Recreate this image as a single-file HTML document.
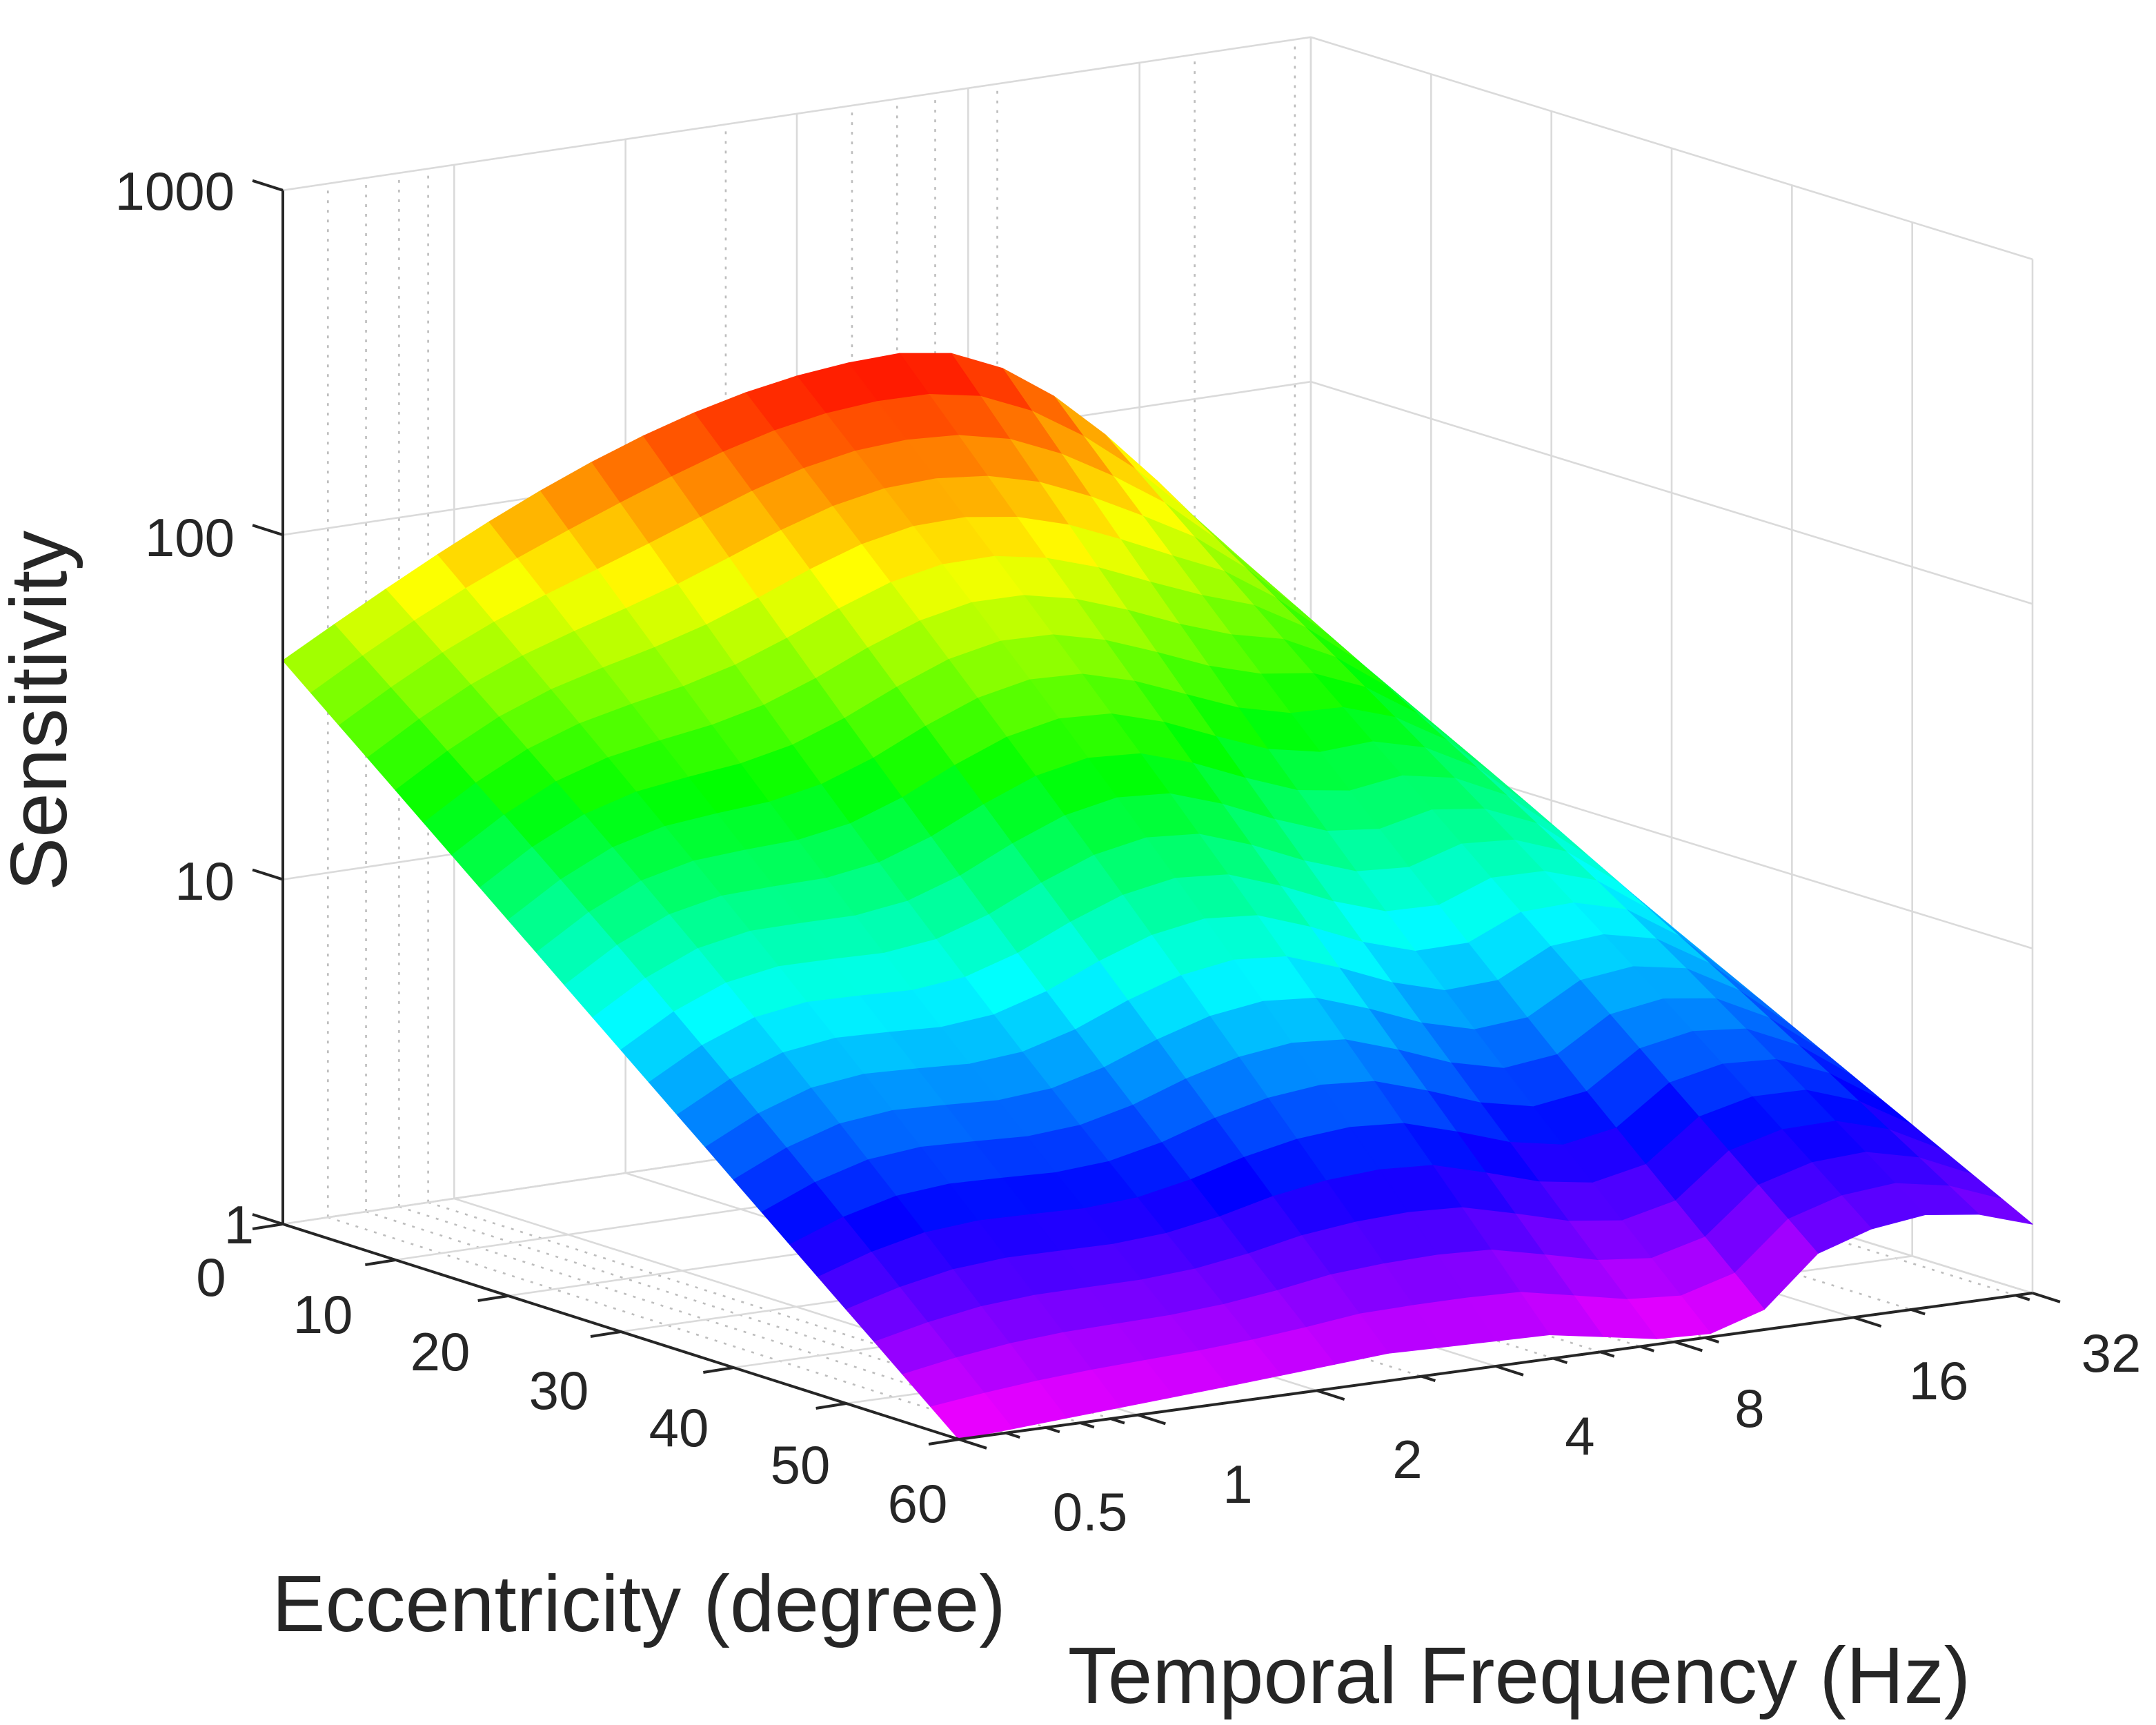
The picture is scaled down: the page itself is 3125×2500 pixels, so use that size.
<!DOCTYPE html>
<html><head><meta charset="utf-8">
<style>
html,body{margin:0;padding:0;background:#fff;}
svg{display:block;}
text{font-family:"Liberation Sans",Arial,sans-serif;fill:#262626;}
</style></head>
<body>
<svg id="s" width="3125" height="2500" viewBox="0 0 1562.5 1250" xmlns="http://www.w3.org/2000/svg">
<g id="grid"></g>
<g id="surf"></g>
<g id="axes"></g>
<g font-size="39">
<text x="170" y="152" text-anchor="end">1000</text>
<text x="170" y="403" text-anchor="end">100</text>
<text x="170" y="652" text-anchor="end">10</text>
<text x="184" y="901" text-anchor="end">1</text>
<text x="153" y="939" text-anchor="middle">0</text>
<text x="234" y="966" text-anchor="middle">10</text>
<text x="319" y="993" text-anchor="middle">20</text>
<text x="405" y="1021" text-anchor="middle">30</text>
<text x="492" y="1048" text-anchor="middle">40</text>
<text x="580" y="1075" text-anchor="middle">50</text>
<text x="665" y="1103" text-anchor="middle">60</text>
<text x="790" y="1109" text-anchor="middle">0.5</text>
<text x="897" y="1089" text-anchor="middle">1</text>
<text x="1020" y="1071" text-anchor="middle">2</text>
<text x="1145" y="1054" text-anchor="middle">4</text>
<text x="1268" y="1034" text-anchor="middle">8</text>
<text x="1405" y="1014" text-anchor="middle">16</text>
<text x="1530" y="994" text-anchor="middle">32</text>
</g>
<text x="0" y="0" font-size="58" text-anchor="middle" transform="translate(48,515) rotate(-90)">Sensitivity</text>
<text x="463" y="1182" font-size="58" text-anchor="middle">Eccentricity (degree)</text>
<text x="1101" y="1234" font-size="58" text-anchor="middle">Temporal Frequency (Hz)</text>
</svg>
<script>
(function(){
var NS="http://www.w3.org/2000/svg";
var P00=[205,887],P10=[695,1043],P01=[950,776],P11=[1473,937],ZS=249.7;
function fl(u,v){return [P00[0]*(1-u)*(1-v)+P10[0]*u*(1-v)+P01[0]*(1-u)*v+P11[0]*u*v,
 P00[1]*(1-u)*(1-v)+P10[1]*u*(1-v)+P01[1]*(1-u)*v+P11[1]*u*v];}
function pt(u,v,z){var p=fl(u,v);return [p[0],p[1]-z*ZS];}
function el(tag,at,par){var e=document.createElementNS(NS,tag);for(var k in at)e.setAttribute(k,at[k]);par.appendChild(e);return e;}
var grid=document.getElementById('grid'),axes=document.getElementById('axes'),surf=document.getElementById('surf');
function line(a,b,st,par){el('line',{x1:a[0],y1:a[1],x2:b[0],y2:b[1],stroke:st.c||'#dcdcdc','stroke-width':st.w||1.2,'stroke-dasharray':st.d||'none'},par);}
var gs={c:'#dadada',w:1.3},ds={c:'#bdbdbd',w:1.3,d:'2 5'};
var maj=[0.5,1,2,4,8,16,32],mnr=[0.6,0.7,0.8,0.9,3,5,6,7,9,20,30];
function vf(f){return Math.log(f/0.5)/Math.LN2/6;}
maj.forEach(function(f){var v=vf(f);line(pt(0,v,0),pt(0,v,3),gs,grid);line(pt(0,v,0),pt(1,v,0),gs,grid);});
mnr.forEach(function(f){var v=vf(f);line(pt(0,v,0),pt(0,v,3),ds,grid);line(pt(0,v,0),pt(1,v,0),ds,grid);});
for(var k=0;k<=6;k++){var u=k/6;line(pt(u,1,0),pt(u,1,3),gs,grid);line(pt(u,0,0),pt(u,1,0),gs,grid);}
[0,1,2,3].forEach(function(z){line(pt(0,0,z),pt(0,1,z),gs,grid);line(pt(0,1,z),pt(1,1,z),gs,grid);});
function g(v){var xs=[0,0.26,0.4,0.55,0.68,0.74,0.8,0.87,0.93,1],ys=[0,0.05,0.08,0.07,0.0,0.03,0.2,0.27,0.27,0.2];
 for(var i=0;i<xs.length-1;i++){if(v<=xs[i+1]){var t=(v-xs[i])/(xs[i+1]-xs[i]);return ys[i]+t*(ys[i+1]-ys[i]);}}return ys[ys.length-1];}
function f(v){var s=v<0.6?0.9:0.44;return 0.52+1.74*Math.exp(-Math.pow((v-0.6)/s,2));}
function Z(u,v){var z=f(v)*(1-u)+g(v)*u+0.06*Math.sin(v*Math.PI*5)*Math.sin(u*Math.PI);return Math.max(0,z);}
var NU=24,NV=20,faces=[];
for(var i=0;i<NU;i++)for(var j=0;j<NV;j++){
 var u0=i/NU,u1=(i+1)/NU,v0=j/NV,v1=(j+1)/NV;
 var zs=[Z(u0,v0),Z(u1,v0),Z(u1,v1),Z(u0,v1)];
 var zm=(zs[0]+zs[1]+zs[2]+zs[3])/4;
 var ps=[pt(u0,v0,zs[0]),pt(u1,v0,zs[1]),pt(u1,v1,zs[2]),pt(u0,v1,zs[3])];
 faces.push({d:(u0+u1)/2-(v0+v1)/2,ps:ps,z:zm});
}
faces.sort(function(a,b){return a.d-b.d;});
faces.forEach(function(F){
 var h=300*(1-F.z/2.26);if(h<0)h=0;if(h>300)h=300;
 var c='hsl('+h.toFixed(1)+',100%,50%)';
 el('polygon',{points:F.ps.map(function(p){return p[0].toFixed(1)+','+p[1].toFixed(1);}).join(' '),fill:c,stroke:c,'stroke-width':0.6,'stroke-linejoin':'round'},surf);
});
var ax={c:'#262626',w:2};
line(P00,[205,138],ax,axes);line(P00,P10,ax,axes);line(P10,P11,ax,axes);
[0,1,2,3].forEach(function(z){var a=pt(0,0,z);line(a,[a[0]-22,a[1]-7],ax,axes);});
for(var k=0;k<=6;k++){var a=pt(k/6,0,0);line(a,[a[0]-22,a[1]+3.5],ax,axes);}
maj.forEach(function(f){var a=pt(1,vf(f),0);line(a,[a[0]+20,a[1]+6.4],ax,axes);});
mnr.forEach(function(f){var a=pt(1,vf(f),0);line(a,[a[0]+10,a[1]+3.2],ax,axes);});
})();
</script>
</body></html>
